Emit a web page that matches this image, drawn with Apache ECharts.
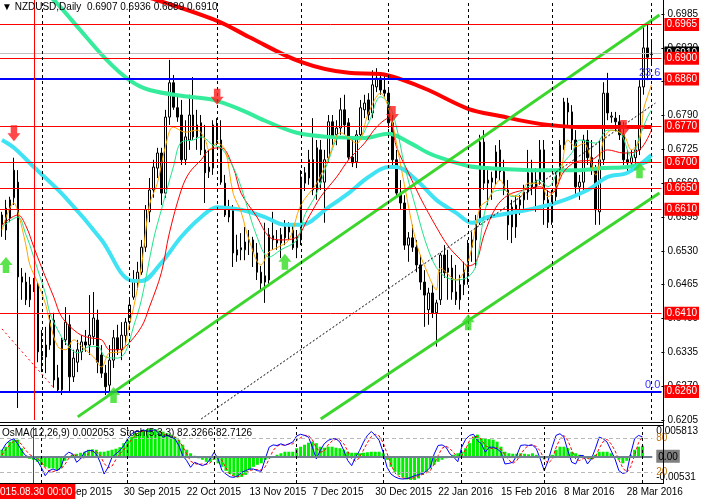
<!DOCTYPE html>
<html><head><meta charset="utf-8">
<script src="https://cdn.jsdelivr.net/npm/echarts@6/dist/echarts.min.js"></script>
<style>html,body{margin:0;padding:0;background:#fff}#c{width:701px;height:500px}</style>
</head><body><div id="c"></div>
<script>
// ---------- data ----------
const symbolName = 'NZDUSD', periodName = 'Daily';
const firstSession = '2015-08-18', lastSession = '2016-04-01';
const closedDays = ['2015-12-25', '2016-01-01'];
const extraSessions = ['2016-03-13', '2016-03-20'];
const markerSession = '2015-08-28', markerText = '2015.08.30 00:00';
const osmaHeader = 'OsMA(12,26,9) 0.002053', stochHeader = 'Stoch(5,3,3) 82.3266 82.7126';

// [open, high, low, close]
const bars = [
[0.6580,0.6605,0.6557,0.6599],[0.6570,0.6628,0.6551,0.6612],[0.6593,0.6634,0.6585,0.6628],[0.6632,0.6709,0.6618,0.6685],[0.6662,0.6685,0.6228,0.6480],
[0.6480,0.6497,0.6436,0.6470],[0.6470,0.6488,0.6426,0.6436],[0.6436,0.6480,0.6422,0.6465],[0.6461,0.6478,0.6451,0.6466],[0.6465,0.6470,0.6316,0.6336],
[0.6336,0.6378,0.6297,0.6328],[0.6326,0.6384,0.6295,0.6349],[0.6349,0.6407,0.6340,0.6397],[0.6397,0.6411,0.6267,0.6282],[0.6286,0.6311,0.6257,0.6263],
[0.6263,0.6363,0.6253,0.6359],[0.6359,0.6422,0.6349,0.6393],[0.6388,0.6407,0.6257,0.6288],[0.6288,0.6340,0.6278,0.6324],[0.6316,0.6359,0.6297,0.6340],
[0.6336,0.6368,0.6320,0.6355],[0.6355,0.6378,0.6336,0.6349],[0.6349,0.6445,0.6330,0.6368],[0.6365,0.6451,0.6349,0.6401],[0.6397,0.6417,0.6295,0.6316],
[0.6330,0.6349,0.6286,0.6295],[0.6295,0.6311,0.6253,0.6269],[0.6272,0.6349,0.6259,0.6320],[0.6320,0.6378,0.6305,0.6363],[0.6363,0.6388,0.6330,0.6340],
[0.6340,0.6393,0.6320,0.6368],[0.6367,0.6401,0.6349,0.6393],[0.6393,0.6436,0.6378,0.6426],[0.6441,0.6493,0.6436,0.6474],[0.6470,0.6509,0.6455,0.6489],
[0.6489,0.6551,0.6484,0.6537],[0.6537,0.6618,0.6528,0.6609],[0.6605,0.6670,0.6585,0.6647],[0.6647,0.6705,0.6632,0.6691],[0.6689,0.6728,0.6670,0.6718],
[0.6718,0.6728,0.6618,0.6641],[0.6641,0.6801,0.6632,0.6787],[0.6787,0.6897,0.6772,0.6853],[0.6853,0.6868,0.6801,0.6806],[0.6805,0.6830,0.6778,0.6787],
[0.6791,0.6820,0.6695,0.6705],[0.6705,0.6781,0.6695,0.6749],[0.6743,0.6830,0.6724,0.6791],[0.6791,0.6864,0.6743,0.6749],[0.6749,0.6801,0.6724,0.6772],
[0.6776,0.6791,0.6714,0.6724],[0.6724,0.6772,0.6622,0.6680],[0.6682,0.6724,0.6670,0.6691],[0.6689,0.6781,0.6676,0.6772],[0.6768,0.6785,0.6733,0.6743],
[0.6743,0.6781,0.6657,0.6662],[0.6660,0.6676,0.6595,0.6599],[0.6595,0.6628,0.6585,0.6609],[0.6609,0.6618,0.6499,0.6526],[0.6522,0.6561,0.6509,0.6532],
[0.6532,0.6564,0.6512,0.6536],[0.6532,0.6576,0.6512,0.6547],[0.6547,0.6570,0.6522,0.6551],[0.6551,0.6557,0.6499,0.6526],[0.6526,0.6545,0.6474,0.6489],
[0.6489,0.6501,0.6455,0.6468],[0.6470,0.6584,0.6430,0.6482],[0.6474,0.6574,0.6465,0.6561],[0.6559,0.6605,0.6532,0.6551],[0.6551,0.6570,0.6532,0.6545],
[0.6545,0.6574,0.6516,0.6561],[0.6555,0.6589,0.6541,0.6576],[0.6576,0.6585,0.6551,0.6566],[0.6570,0.6580,0.6532,0.6536],[0.6536,0.6570,0.6516,0.6557],
[0.6551,0.6685,0.6541,0.6672],[0.6660,0.6691,0.6645,0.6680],[0.6670,0.6724,0.6657,0.6705],[0.6705,0.6785,0.6637,0.6647],[0.6647,0.6743,0.6628,0.6728],
[0.6724,0.6743,0.6647,0.6662],[0.6662,0.6724,0.6584,0.6705],[0.6709,0.6791,0.6701,0.6778],[0.6778,0.6791,0.6733,0.6749],[0.6753,0.6781,0.6733,0.6766],
[0.6766,0.6824,0.6753,0.6801],[0.6801,0.6830,0.6753,0.6772],[0.6776,0.6785,0.6705,0.6710],[0.6710,0.6743,0.6691,0.6699],[0.6701,0.6762,0.6689,0.6753],
[0.6753,0.6820,0.6743,0.6805],[0.6801,0.6830,0.6785,0.6814],[0.6820,0.6833,0.6781,0.6791],[0.6795,0.6877,0.6785,0.6849],[0.6845,0.6881,0.6835,0.6862],
[0.6862,0.6868,0.6830,0.6839],[0.6839,0.6868,0.6826,0.6833],[0.6833,0.6843,0.6766,0.6776],[0.6776,0.6791,0.6695,0.6705],[0.6705,0.6724,0.6632,0.6641],
[0.6641,0.6666,0.6609,0.6622],[0.6622,0.6637,0.6532,0.6541],[0.6541,0.6566,0.6509,0.6555],[0.6555,0.6580,0.6528,0.6537],[0.6537,0.6551,0.6489,0.6503],
[0.6503,0.6522,0.6455,0.6470],[0.6470,0.6493,0.6384,0.6445],[0.6417,0.6459,0.6388,0.6449],[0.6449,0.6465,0.6401,0.6411],[0.6411,0.6436,0.6346,0.6430],
[0.6436,0.6526,0.6426,0.6522],[0.6522,0.6541,0.6478,0.6488],[0.6489,0.6532,0.6436,0.6497],[0.6497,0.6522,0.6436,0.6451],[0.6451,0.6503,0.6426,0.6436],
[0.6436,0.6484,0.6417,0.6465],[0.6465,0.6509,0.6445,0.6493],[0.6489,0.6551,0.6465,0.6541],[0.6537,0.6566,0.6509,0.6551],[0.6551,0.6599,0.6497,0.6585],
[0.6585,0.6753,0.6580,0.6739],[0.6739,0.6762,0.6647,0.6660],[0.6660,0.6685,0.6618,0.6666],[0.6662,0.6682,0.6628,0.6670],[0.6670,0.6733,0.6657,0.6720],
[0.6724,0.6743,0.6666,0.6682],[0.6682,0.6705,0.6637,0.6647],[0.6647,0.6666,0.6551,0.6580],[0.6614,0.6628,0.6545,0.6576],[0.6576,0.6637,0.6555,0.6618],
[0.6618,0.6637,0.6599,0.6628],[0.6628,0.6657,0.6609,0.6643],[0.6643,0.6724,0.6628,0.6680],[0.6680,0.6705,0.6637,0.6653],[0.6653,0.6689,0.6605,0.6666],
[0.6666,0.6743,0.6657,0.6724],[0.6724,0.6743,0.6580,0.6628],[0.6628,0.6647,0.6574,0.6585],[0.6585,0.6647,0.6580,0.6634],[0.6634,0.6682,0.6618,0.6676],
[0.6676,0.6743,0.6666,0.6733],[0.6733,0.6824,0.6724,0.6816],[0.6814,0.6824,0.6772,0.6797],[0.6797,0.6810,0.6724,0.6743],[0.6743,0.6762,0.6637,0.6653],
[0.6653,0.6676,0.6628,0.6662],[0.6662,0.6753,0.6647,0.6743],[0.6743,0.6762,0.6695,0.6709],[0.6709,0.6743,0.6676,0.6685],[0.6685,0.6695,0.6580,0.6609],
[0.6605,0.6743,0.6580,0.6705],[0.6705,0.6854,0.6695,0.6833],[0.6833,0.6872,0.6781,0.6795],[0.6787,0.6797,0.6776,0.6789],[0.6785,0.6797,0.6762,0.6778],
[0.6778,0.6791,0.6743,0.6753],[0.6753,0.6778,0.6695,0.6705],[0.6705,0.6724,0.6682,0.6699],[0.6699,0.6724,0.6682,0.6709],[0.6709,0.6743,0.6685,0.6724],
[0.6724,0.6858,0.6714,0.6845],[0.6845,0.6964,0.6830,0.6920],[0.6920,0.6964,0.6858,0.6902],[0.6907,0.6936,0.6889,0.6910]
];

// moving averages: [session index, price]
const maSlowThick = [[30,0.7030],[38,0.7014],[54,0.6972],[62,0.6941],[75,0.6893],[87,0.6872],[95,0.6870],[100,0.6860],[107,0.6839],[117,0.6803],[125,0.6789],[135,0.6774],[145,0.6768],[155,0.6768],[163,0.6768]];
const maMidThick = [[6,0.7060],[13,0.7012],[19,0.6960],[26,0.6899],[32,0.6858],[37,0.6839],[47,0.6826],[53,0.6820],[60,0.6801],[66,0.6780],[74,0.6757],[82,0.6749],[91,0.6747],[97,0.6755],[102,0.6739],[107,0.6718],[110,0.6709],[117,0.6693],[122,0.6689],[135,0.6685],[145,0.6685],[151,0.6689],[157,0.6691],[161,0.6699],[163,0.6705]];
const maFastThick = [[0,0.6743],[3,0.6728],[8,0.6691],[16,0.6632],[25,0.6551],[32,0.6474],[35,0.6472],[40,0.6507],[45,0.6557],[50,0.6595],[54,0.6614],[60,0.6609],[66,0.6595],[71,0.6580],[75,0.6580],[82,0.6614],[87,0.6641],[92,0.6672],[97,0.6691],[99,0.6691],[104,0.6666],[109,0.6628],[114,0.6603],[118,0.6584],[122,0.6595],[132,0.6609],[139,0.6622],[147,0.6647],[152,0.6672],[157,0.6680],[163,0.6714]];
const maRedThin = [[0,0.6580],[4,0.6599],[6,0.6578],[8,0.6537],[10,0.6497],[13,0.6441],[15,0.6403],[19,0.6372],[22,0.6363],[25,0.6359],[27,0.6340],[29,0.6340],[31,0.6346],[35,0.6384],[37,0.6422],[40,0.6488],[42,0.6564],[45,0.6647],[47,0.6680],[50,0.6705],[52,0.6724],[55,0.6728],[58,0.6691],[60,0.6641],[64,0.6595],[67,0.6557],[70,0.6551],[74,0.6557],[77,0.6595],[80,0.6634],[84,0.6672],[87,0.6705],[91,0.6737],[94,0.6768],[97,0.6785],[99,0.6730],[102,0.6680],[105,0.6632],[109,0.6576],[112,0.6539],[115,0.6514],[117,0.6501],[119,0.6509],[121,0.6561],[124,0.6614],[127,0.6637],[131,0.6647],[135,0.6653],[138,0.6641],[141,0.6682],[144,0.6701],[148,0.6705],[152,0.6724],[156,0.6718],[160,0.6724],[163,0.6762]];
const maGreenThin = [[0,0.6576],[4,0.6595],[6,0.6561],[7,0.6541],[9,0.6493],[11,0.6445],[12,0.6411],[14,0.6378],[16,0.6353],[19,0.6334],[22,0.6346],[24,0.6346],[26,0.6326],[29,0.6324],[31,0.6336],[33,0.6384],[35,0.6436],[38,0.6551],[40,0.6609],[43,0.6691],[45,0.6739],[48,0.6743],[50,0.6749],[53,0.6733],[55,0.6728],[58,0.6691],[60,0.6653],[64,0.6557],[67,0.6518],[70,0.6532],[74,0.6551],[76,0.6599],[79,0.6641],[82,0.6705],[85,0.6749],[89,0.6743],[92,0.6776],[95,0.6826],[97,0.6814],[99,0.6768],[101,0.6695],[104,0.6609],[107,0.6532],[110,0.6488],[114,0.6474],[117,0.6480],[119,0.6503],[121,0.6599],[123,0.6641],[126,0.6647],[128,0.6634],[132,0.6653],[135,0.6666],[137,0.6653],[140,0.6691],[143,0.6718],[145,0.6743],[149,0.6737],[152,0.6762],[155,0.6758],[158,0.6710],[160,0.6749],[162,0.6787],[163,0.6801]];
const maOrange = [[0,0.6570],[3,0.6622],[4,0.6605],[6,0.6541],[7,0.6503],[9,0.6468],[11,0.6426],[12,0.6393],[14,0.6346],[16,0.6340],[18,0.6359],[20,0.6346],[23,0.6326],[25,0.6307],[27,0.6334],[30,0.6336],[32,0.6390],[33,0.6420],[35,0.6500],[37,0.6618],[39,0.6660],[41,0.6730],[43,0.6768],[46,0.6758],[49,0.6762],[51,0.6743],[52,0.6724],[54,0.6737],[56,0.6724],[58,0.6641],[60,0.6605],[62,0.6551],[65,0.6503],[67,0.6528],[69,0.6536],[72,0.6551],[75,0.6618],[79,0.6660],[82,0.6710],[85,0.6757],[89,0.6737],[92,0.6795],[95,0.6833],[97,0.6805],[99,0.6737],[101,0.6657],[104,0.6545],[107,0.6484],[109,0.6455],[110,0.6497],[114,0.6474],[117,0.6509],[120,0.6614],[122,0.6628],[125,0.6666],[127,0.6641],[130,0.6634],[132,0.6660],[135,0.6660],[137,0.6634],[140,0.6672],[142,0.6743],[144,0.6730],[146,0.6737],[149,0.6676],[151,0.6743],[153,0.6762],[156,0.6753],[158,0.6724],[160,0.6743],[161,0.6801],[162,0.6826],[163,0.6849]];

// trend lines (two end points each, [session index, price])
const channelUpper = [[19,0.6211],[165,0.6983]];
const channelLower = [[80,0.6207],[165,0.6641]];
const blackTrend = [[50,0.6207],[164,0.6814]];
const redTrend = [[0,0.6380],[13,0.6267]];

// signal arrows
const sellArrows = [[3,0.6756],[54,0.6826],[98,0.6793],[156,0.6766]];
const buyArrows = [[1,0.6503],[28,0.6253],[71,0.6509],[117,0.6393],[160,0.6685]];

// levels
const levelLines = [0.6965,0.6900,0.6860,0.6770,0.6700,0.6650,0.6610,0.6410,0.6260];
const fibValues = [0.6860, 0.6260];
const fibLabels = ['23.6', '0.0'];
const bidPrice = 0.6910;
const priceTicks = [0.6205,0.6270,0.6335,0.6400,0.6465,0.6530,0.6595,0.6660,0.6725,0.6790,0.6855,0.6920,0.6985];

// lower panel
const osma = [0.0013,0.0019,0.0029,0.0033,0.0033,0.0016,-0.0002,-0.0005,-0.0007,-0.0011,
-0.0017,-0.0021,-0.0024,-0.0024,-0.0027,-0.0024,-0.0009,-0.0004,0.0003,0.0005,
0.0007,0.0009,0.0013,0.0014,0.0013,0.0009,0.0009,0.0011,0.0013,0.0015,
0.0018,0.0026,0.0033,0.0039,0.0046,0.0049,0.0051,0.0054,0.0055,0.0054,
0.0051,0.0049,0.0046,0.0043,0.0039,0.0033,0.0023,0.0013,0.0006,0.0001,
-0.0004,-0.0007,-0.0011,-0.0011,-0.0007,-0.0014,-0.0021,-0.0029,-0.0035,-0.0039,
-0.0042,-0.0041,-0.0037,-0.0027,-0.0021,-0.0017,-0.0014,-0.0007,-0.0004,-0.0001,
0.0003,0.0006,0.0009,0.0009,0.0009,0.0016,0.0019,0.0023,0.0027,0.0029,
0.0026,0.0019,0.0017,0.0019,0.0019,0.0017,0.0016,0.0013,0.0009,0.0007,
0.0007,0.0006,0.0007,0.0008,0.0009,0.0009,0.0009,0.0006,-0.0007,-0.0021,
-0.0031,-0.0037,-0.0042,-0.0046,-0.0047,-0.0047,-0.0044,-0.0037,-0.0031,-0.0024,
-0.0017,-0.0011,-0.0007,-0.0004,-0.0002,0.0003,0.0006,0.0009,0.0016,0.0026,
0.0039,0.0043,0.0036,0.0036,0.0034,0.0033,0.0029,0.0019,0.0009,0.0006,
0.0005,0.0005,0.0006,0.0005,0.0004,0.0006,0.0003,-0.0002,-0.0006,-0.0004,
0.0003,0.0013,0.0019,0.0019,0.0016,0.0009,0.0006,0.0003,-0.0001,-0.0004,
-0.0006,0.0003,0.0009,0.0009,0.0009,0.0006,-0.0001,-0.0007,-0.0014,-0.0009,
0.0003,0.0013,0.0019,0.0021];
const stochK = [58,70,76,79,70,58,49,46,45,40,
28,13,22,25,22,28,49,55,52,37,
43,55,58,58,52,37,16,28,46,52,
58,67,79,88,92,92,95,92,94,95,
88,82,85,82,79,67,49,40,28,37,
34,31,34,43,55,43,22,16,11,10,
13,19,22,25,25,22,21,43,64,68,
67,70,67,70,73,84,87,85,82,64,
43,58,70,76,79,79,73,58,40,31,
46,58,73,85,92,85,76,55,28,16,
11,8,7,8,10,13,15,17,21,28,
52,67,68,64,52,46,38,64,78,85,
87,76,70,55,64,64,61,55,34,35,
37,49,67,68,67,68,61,43,22,40,
64,85,88,82,58,37,34,49,49,34,
43,61,82,79,73,58,43,22,17,19,
52,79,85,82.33];
const stochD = [50,60,68,75,75,69,59,51,47,44,
38,27,21,20,23,25,33,44,52,48,
44,45,52,57,56,49,35,27,30,42,
52,59,68,78,86,91,93,93,94,94,
92,88,85,83,82,76,65,52,39,35,
33,34,33,36,44,47,40,27,16,12,
11,14,18,22,24,24,23,29,43,58,
66,68,68,69,70,76,81,85,85,77,
63,55,57,68,75,78,77,70,57,43,
39,45,59,72,83,87,84,72,53,33,
18,12,9,8,8,10,13,15,18,22,
34,49,62,66,61,54,45,49,60,76,
83,83,78,67,63,61,63,60,50,41,
35,40,51,61,67,68,65,57,42,35,
42,63,79,85,76,59,43,40,44,44,
42,46,62,74,78,70,58,41,27,19,
29,50,72,82.71];
const osmaTicks = [-0.00531, 0, 0.005813];
const osmaTickLabels = ['-0.00531', '0.00', '0.005813'];
const stochTicks = [20, 80];
const stochLevels = [20, 80];

// ---------- categories ----------
function buildSessions() {
  const out = [];
  const d = new Date(firstSession + 'T00:00:00Z');
  const end = new Date(lastSession + 'T00:00:00Z');
  while (d <= end) {
    const s = d.toISOString().slice(0, 10);
    const wd = d.getUTCDay();
    if ((wd >= 1 && wd <= 5 && closedDays.indexOf(s) < 0) || extraSessions.indexOf(s) >= 0) out.push(s);
    d.setUTCDate(d.getUTCDate() + 1);
  }
  return out;
}
const sessions = buildSessions();
const cats = sessions.concat(['pad-1', 'pad-2']);
const monthNames = ['Jan','Feb','Mar','Apr','May','Jun','Jul','Aug','Sep','Oct','Nov','Dec'];
function fmtDate(s) { const p = s.split('-'); return (+p[2]) + ' ' + monthNames[+p[1] - 1] + ' ' + p[0]; }
const monthStarts = [];
for (let i = 1; i < sessions.length; i++) if (sessions[i].slice(0, 7) !== sessions[i - 1].slice(0, 7)) monthStarts.push(i);

// ---------- chart ----------
const FONT = "'Liberation Sans', Arial, sans-serif";
const chart = echarts.init(document.getElementById('c'), null, { width: 701, height: 500 });
const last = bars[bars.length - 1];

const vDashed = monthStarts.map(i => ({ xAxis: cats[i], lineStyle: { color: '#000', width: 1, type: [3, 3] }, label: { show: false } }));
const boxLabel = (bg, fg) => ({ show: true, position: 'end', distance: 3, formatter: p => Number(p.value).toFixed(4),
  backgroundColor: bg, color: fg, padding: [2, 2, 1, 2], fontSize: 10, fontFamily: FONT });

function maLine(data, color, width) {
  return { type: 'line', xAxisIndex: 0, yAxisIndex: 0, data: data, showSymbol: false, smooth: 0.35,
    lineStyle: { color: color, width: width }, z: 4, silent: true };
}
function trend(data, color, width, type) {
  return { type: 'line', xAxisIndex: 0, yAxisIndex: 0, data: data, showSymbol: false,
    lineStyle: { color: color, width: width, type: type }, z: 4, silent: true };
}

const option = {
  animation: false,
  backgroundColor: '#fff',
  textStyle: { fontFamily: FONT },
  grid: [
    { left: -1, right: 38, top: 0, height: 420 },
    { left: -1, right: 38, top: 427, height: 56 }
  ],
  xAxis: [
    { type: 'category', gridIndex: 0, data: cats, boundaryGap: true, axisLine: { show: false }, axisTick: { show: false }, axisLabel: { show: false }, splitLine: { show: false } },
    { type: 'category', gridIndex: 1, data: cats, boundaryGap: true, axisLine: { show: false }, axisTick: { show: false }, splitLine: { show: false },
      axisLabel: { show: true, interval: (i) => i % 16 === 15 && i < sessions.length, align: 'left', margin: 4,
        formatter: (v) => fmtDate(v), color: '#000', fontSize: 10, fontFamily: FONT } }
  ],
  yAxis: [
    { type: 'value', gridIndex: 0, position: 'right', min: 0.6205, max: 0.7012, scale: true,
      splitLine: { show: false }, axisLine: { show: false },
      axisTick: { show: true, customValues: priceTicks, length: 3, lineStyle: { color: '#000' } },
      axisLabel: { customValues: priceTicks, formatter: v => v.toFixed(4), color: '#000', fontSize: 10, fontFamily: FONT, margin: 6 } },
    { type: 'value', gridIndex: 1, position: 'right', min: -0.00531, max: 0.005813,
      splitLine: { show: false }, axisLine: { show: false }, axisTick: { show: false },
      axisLabel: { customValues: osmaTicks, margin: 4, fontSize: 10, fontFamily: FONT, color: '#000',
        formatter: v => { const k = osmaTicks.indexOf(v); const t = osmaTickLabels[k]; return v > 0 ? '{t|' + t + '}' : (v < 0 ? '{b|' + t + '}' : '{z|' + t + '}'); },
        rich: { t: { padding: [9, 0, 0, 0], fontSize: 10, fontFamily: FONT }, b: { padding: [0, 0, 11, 0], fontSize: 10, fontFamily: FONT },
                z: { backgroundColor: '#7f7f7f', color: '#000', padding: [2, 2, 1, 2], fontSize: 10, fontFamily: FONT } } } },
    { type: 'value', gridIndex: 1, position: 'right', min: 0, max: 100,
      splitLine: { show: false }, axisLine: { show: false }, axisTick: { show: false },
      axisLabel: { customValues: stochTicks, margin: 4, color: '#c07818', fontSize: 10, fontFamily: FONT } }
  ],
  graphic: [
    { type: 'text', left: 2, top: 2, z: 50, style: { text: '\u25BC ' + symbolName + ',' + periodName + '  ' + last.map(v => v.toFixed(4)).join(' '), fill: '#000', font: '10px ' + FONT } },
    { type: 'text', left: 2, top: 428, z: 50, style: { text: osmaHeader + '  ' + stochHeader, fill: '#000', font: '10px ' + FONT } },
    { type: 'line', z: 40, shape: { x1: 663.5, y1: 0, x2: 663.5, y2: 484 }, style: { stroke: '#000', lineWidth: 1 } },
    { type: 'line', z: 40, shape: { x1: 0, y1: 422.5, x2: 663.5, y2: 422.5 }, style: { stroke: '#000', lineWidth: 1 } },
    { type: 'line', z: 40, shape: { x1: 0, y1: 425.5, x2: 663.5, y2: 425.5 }, style: { stroke: '#000', lineWidth: 1 } },
    { type: 'line', z: 40, shape: { x1: 0, y1: 483.5, x2: 663.5, y2: 483.5 }, style: { stroke: '#000', lineWidth: 1 } }
  ],
  series: [
    { type: 'candlestick', xAxisIndex: 0, yAxisIndex: 0, barWidth: 2, z: 3, silent: true,
      data: bars.map(b => [b[0], b[3], b[2], b[1]]),
      itemStyle: { color: '#fff', color0: '#000', borderColor: '#000', borderColor0: '#000', borderWidth: 1 },
      markLine: { symbol: 'none', silent: true, animation: false, precision: 4,
        data: [
          { yAxis: bidPrice, lineStyle: { color: '#c0c0c0', width: 1, type: 'solid' }, label: boxLabel('#000', '#fff') }
        ].concat(levelLines.map(v => ({ yAxis: v, lineStyle: { color: '#ff0000', width: 1, type: 'solid' }, label: boxLabel('#ff0000', '#fff') })))
         .concat(fibValues.map((v, k) => ({ yAxis: v, lineStyle: { color: '#0000ff', width: 2, type: 'solid' },
            label: { show: true, position: 'insideEndTop', distance: 1, formatter: fibLabels[k], color: '#3333ff', fontSize: 11, fontFamily: FONT } })))
         .concat(vDashed)
         .concat([{ xAxis: markerSession, lineStyle: { color: '#ff0000', width: 1, type: 'solid' }, label: { show: false } }])
      } },
    maLine(maSlowThick, '#ff0000', 4),
    maLine(maMidThick, '#35ec9c', 4),
    maLine(maFastThick, '#3fe3f3', 4),
    maLine(maRedThin, '#ff0000', 1),
    maLine(maGreenThin, '#22e58a', 1),
    maLine(maOrange, '#ffa500', 1),
    trend(channelUpper, '#3bd62b', 3, 'solid'),
    trend(channelLower, '#3bd62b', 3, 'solid'),
    trend(blackTrend, '#000', 1, [2, 2]),
    trend(redTrend, '#ff0000', 1, [2, 3]),
    { type: 'scatter', xAxisIndex: 0, yAxisIndex: 0, data: sellArrows, z: 6, silent: true,
      symbol: 'path://M3,0 L9,0 L9,8 L12,8 L6,16 L0,8 L3,8 Z', symbolSize: [13, 16], itemStyle: { color: '#ff1a1a' } },
    { type: 'scatter', xAxisIndex: 0, yAxisIndex: 0, data: buyArrows, z: 6, silent: true,
      symbol: 'path://M6,0 L12,8 L9,8 L9,16 L3,16 L3,8 L0,8 Z', symbolSize: [13, 16], itemStyle: { color: '#33dd22' } },
    // lower panel
    { type: 'bar', xAxisIndex: 1, yAxisIndex: 1, data: osma, barWidth: 3, silent: true, z: 2,
      itemStyle: { color: '#00f000' },
      markLine: { symbol: 'none', silent: true, animation: false, precision: 6,
        data: [{ yAxis: 0, lineStyle: { color: '#708090', width: 2, type: 'solid' }, label: { show: false } }]
          .concat(vDashed)
          .concat([{ xAxis: markerSession, lineStyle: { color: '#ff0000', width: 1, type: 'solid' },
            label: { show: true, position: 'start', formatter: markerText, backgroundColor: '#ff0000', color: '#fff',
              padding: [3, 3, 2, 3], fontSize: 10, fontFamily: FONT, distance: 1 } }]) } },
    { type: 'line', xAxisIndex: 1, yAxisIndex: 2, data: stochK, showSymbol: false, silent: true, z: 4,
      lineStyle: { color: '#0000ff', width: 1 },
      markLine: { symbol: 'none', silent: true, animation: false,
        data: stochLevels.map(v => ({ yAxis: v, lineStyle: { color: '#b8b8b8', width: 1, type: [4, 3] }, label: { show: false } })) } },
    { type: 'line', xAxisIndex: 1, yAxisIndex: 2, data: stochD, showSymbol: false, silent: true, z: 3,
      lineStyle: { color: '#ff0000', width: 1, type: [3, 2] } }
  ]
};
chart.setOption(option);
</script>
</body></html>
